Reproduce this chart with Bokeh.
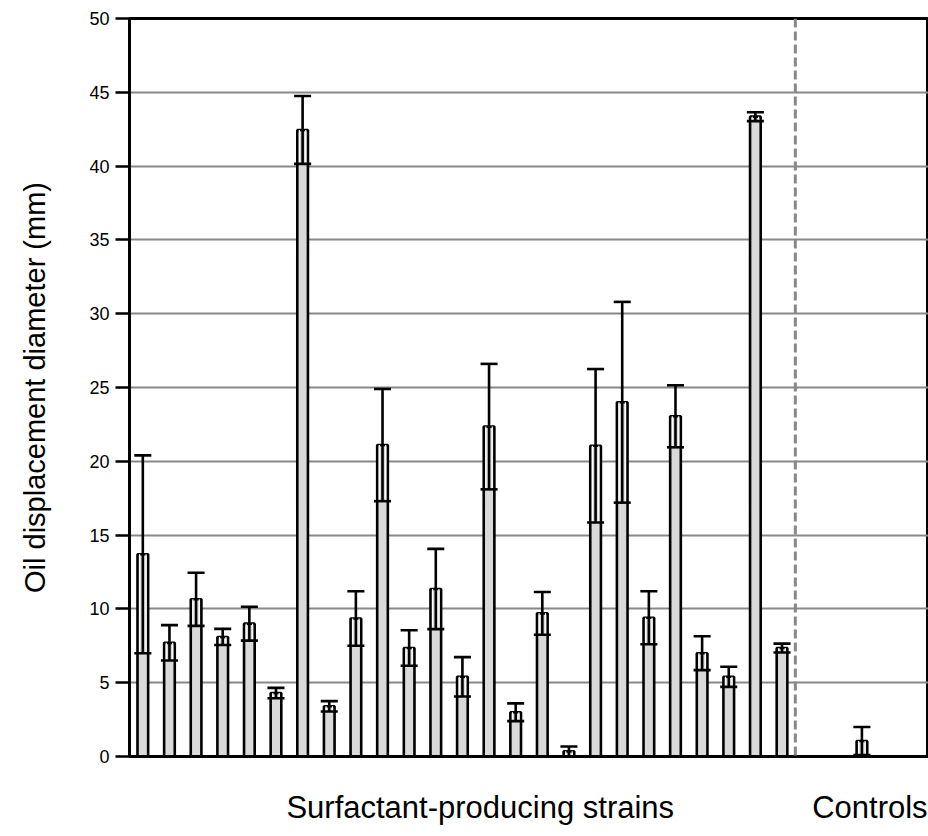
from bokeh.plotting import figure
from bokeh.models import FixedTicker, Span, ColumnDataSource
from bokeh.embed import file_html
from bokeh.resources import INLINE

# ---- data ----
strain_means = [13.7, 7.7, 10.65, 8.1, 9.0, 4.3, 42.45, 3.4, 9.35, 21.1, 7.35, 11.35, 5.4,
                22.35, 3.0, 9.7, 0.35, 21.05, 24.0, 9.4, 23.05, 7.0, 5.4, 43.35, 7.35]
strain_sd = [6.7, 1.2, 1.8, 0.55, 1.15, 0.35, 2.3, 0.35, 1.85, 3.8, 1.2, 2.72, 1.33,
             4.25, 0.6, 1.45, 0.33, 5.2, 6.8, 1.8, 2.1, 1.15, 0.68, 0.3, 0.3]
control_means = [0.0, 1.05, 0.0]
control_sd = [0.0, 0.95, 0.0]
group_labels = ["Surfactant-producing strains", "Controls"]
y_ticks = [0, 5, 10, 15, 20, 25, 30, 35, 40, 45, 50]

# ---- positions (layout) ----
n_s = len(strain_means)
xs = list(range(n_s)) + [n_s + 1 + i for i in range(len(control_means))]
means = strain_means + control_means
sds = strain_sd + control_sd
divider_x = n_s - 0.5
label_pos = [12.67, 27.3]

FONT = "Liberation Sans"
BAR_W = 0.4
CAP_W = 0.64
LW = 2.6

p = figure(width=928, height=836, x_range=(-0.5, 29.5), y_range=(0, 50),
           output_backend="svg", toolbar_location=None,
           min_border_left=129, min_border_right=0, min_border_top=18, min_border_bottom=80)

p.outline_line_color = "black"
p.outline_line_width = 3
p.background_fill_color = "white"
p.border_fill_color = "white"

p.xgrid.visible = False
p.ygrid.ticker = FixedTicker(ticks=y_ticks)
p.ygrid.grid_line_color = "#888888"
p.ygrid.grid_line_width = 2

# bars
src = ColumnDataSource(dict(x=xs, top=means))
p.vbar(x="x", top="top", bottom=0, width=BAR_W, source=src,
       fill_color="#d9d9d9", line_color="black", line_width=LW)

# error bars
ex, lo, hi = [], [], []
for x, m, s in zip(xs, means, sds):
    if m > 0:
        ex.append(x)
        lo.append(max(m - s, 0))
        hi.append(m + s)
mean_e = [m for m in means if m > 0]

# inner white stripes in the band between lower bound and mean
p.segment(x0=[x - 0.12 for x in ex], y0=lo, x1=[x - 0.12 for x in ex], y1=mean_e,
          line_color="white", line_width=1.2)
p.segment(x0=[x + 0.12 for x in ex], y0=lo, x1=[x + 0.12 for x in ex], y1=mean_e,
          line_color="white", line_width=1.2)
# whisker
p.segment(x0=ex, y0=lo, x1=ex, y1=hi, line_color="black", line_width=LW)
# caps
p.segment(x0=[x - CAP_W / 2 for x in ex], y0=hi, x1=[x + CAP_W / 2 for x in ex], y1=hi,
          line_color="black", line_width=LW)
p.segment(x0=[x - CAP_W / 2 for x in ex], y0=lo, x1=[x + CAP_W / 2 for x in ex], y1=lo,
          line_color="black", line_width=LW)

# divider
p.add_layout(Span(location=divider_x, dimension="height", line_color="#888888",
                  line_width=3, line_dash="9 4"))

# y axis
ya = p.yaxis[0]
ya.ticker = FixedTicker(ticks=y_ticks)
ya.axis_line_width = 3
ya.axis_line_color = "black"
ya.major_tick_line_width = 2.5
ya.major_tick_line_color = "black"
ya.major_tick_out = 14
ya.major_tick_in = 0
ya.minor_tick_line_color = None
ya.major_label_text_font = FONT
ya.major_label_text_font_size = "18px"
ya.major_label_text_color = "black"
ya.major_label_standoff = 6
ya.axis_label = "Oil displacement diameter (mm)"
ya.axis_label_text_font = FONT
ya.axis_label_text_font_size = "29px"
ya.axis_label_text_font_style = "normal"
ya.axis_label_text_color = "black"
ya.axis_label_standoff = 35

# x axis
xa = p.xaxis[0]
xa.ticker = FixedTicker(ticks=label_pos)
xa.major_label_overrides = {label_pos[0]: group_labels[0], label_pos[1]: group_labels[1]}
xa.axis_line_width = 3
xa.axis_line_color = "black"
xa.major_tick_line_color = None
xa.minor_tick_line_color = None
xa.major_label_text_font = FONT
xa.major_label_text_font_size = "31px"
xa.major_label_text_color = "black"
xa.major_label_standoff = 27

open("out.html", "w").write(file_html(p, INLINE))
